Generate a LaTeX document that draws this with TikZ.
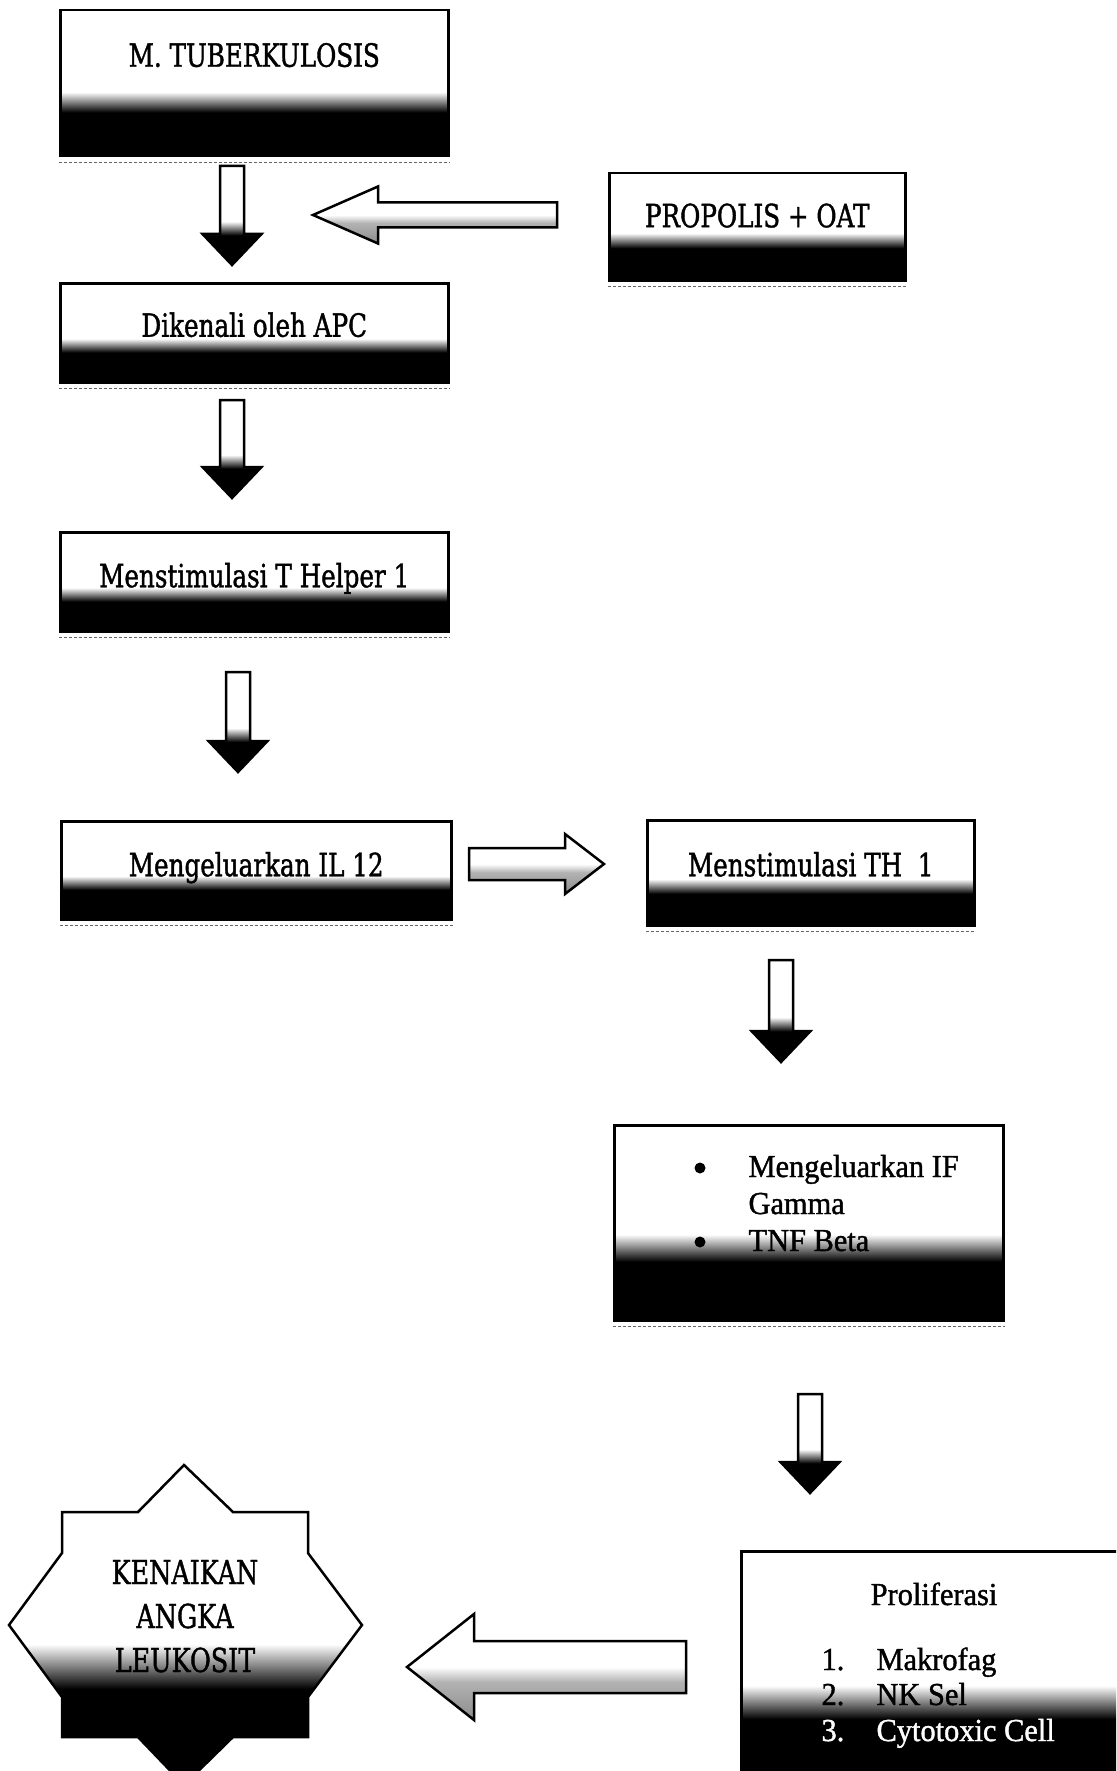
\documentclass[tikz,border=0pt]{standalone}
\usepackage{fontspec}
\setmainfont{Liberation Serif}
\newfontfamily\boxfont{DejaVu Serif}[FakeStretch=0.77, FakeBold=1.2]
\newfontfamily\listfont{Liberation Serif}[FakeStretch=0.95, FakeBold=1.2]
\usetikzlibrary{calc}

% scanned white-to-black fill (bottom of the path = 25bp, top = 75bp)
\pgfdeclareverticalshading{scanfade}{100bp}{color(0bp)=(black); color(40bp)=(black); color(43.5bp)=(black!50); color(47bp)=(white); color(100bp)=(white)}
\pgfdeclareverticalshading{scanfadelight}{100bp}{color(0bp)=(black!45); color(25bp)=(black!45); color(43bp)=(black!30); color(50bp)=(white); color(100bp)=(white)}

\tikzset{
  fadebox/.style={draw, line width=2.5pt, shading=scanfade, inner xsep=0pt, inner ysep=0pt,
    anchor=north west, font=\boxfont\fontsize{32}{38}\selectfont},
  startext/.style={font=\boxfont\fontsize{33}{44}\selectfont, anchor=base},
  listtext/.style={font=\listfont\fontsize{32}{37}\selectfont, anchor=base west},
  bulletdot/.style={circle, fill=black, inner sep=0pt, minimum size=11pt},
  blkarrow/.style={draw, line width=2.5pt, shading=scanfade},
  blkarrowlight/.style={draw, line width=2.5pt, shading=scanfadelight},
  shadowline/.style={black!60, line width=1pt, densely dashed}
}

% vertical block arrow: start, tip, shaft half width, head half width, head length
\newcommand{\vblk}[6][blkarrow]{%
  \path[#1] let \p1=(#2), \p2=(#3), \n1={sign(\y2-\y1)} in
    ({\x1-#4},\y1) -- ({\x1+#4},\y1) -- ({\x1+#4},{\y2-\n1*#6}) -- ({\x1+#5},{\y2-\n1*#6})
    -- (\x1,\y2) -- ({\x1-#5},{\y2-\n1*#6}) -- ({\x1-#4},{\y2-\n1*#6}) -- cycle;}
% horizontal block arrow: start, tip, shaft half width, head half width, head length
\newcommand{\hblk}[6][blkarrowlight]{%
  \path[#1] let \p1=(#2), \p2=(#3), \n1={sign(\x2-\x1)} in
    (\x1,{\y1+#4}) -- (\x1,{\y1-#4}) -- ({\x2-\n1*#6},{\y1-#4}) -- ({\x2-\n1*#6},{\y1-#5})
    -- (\x2,\y1) -- ({\x2-\n1*#6},{\y1+#5}) -- ({\x2-\n1*#6},{\y1+#4}) -- cycle;}

\begin{document}
\begin{tikzpicture}[x=1pt, y=-1pt]
    \useasboundingbox (0,0) rectangle (1116,1771);
    \clip (0,0) rectangle (1116,1771);

    % boxes of the left column
    \node[fadebox, minimum width=388pt, text height=56.5pt, text depth=89.5pt] (tb) at (59,9) {M. TUBERKULOSIS};
    \node[fadebox, minimum width=388pt, text height=53.5pt, text depth=45.5pt] (apc) at (59,282) {Dikenali oleh APC};
    \node[fadebox, minimum width=388pt, text height=55pt, text depth=44pt] (th) at (59,531) {Menstimulasi T Helper 1};
    \node[fadebox, minimum width=390pt, text height=55pt, text depth=43pt] (il) at (60,820) {Mengeluarkan IL 12};

    % boxes of the right column
    \node[fadebox, minimum width=296pt, text height=54pt, text depth=53pt] (pro) at (608,172) {PROPOLIS + OAT};
    \node[fadebox, minimum width=327pt, text height=56pt, text depth=49pt] (sth) at (646,819) {Menstimulasi TH\ \ 1};
    \node[fadebox, minimum width=389pt, minimum height=195pt] (ifg) at (613,1124) {};
    \node[fadebox, minimum width=390pt, minimum height=240pt] (pf) at (740,1550) {};

    % shadow lines under the boxes
    \foreach \b in {tb,apc,th,il,pro,sth,ifg}
        \draw[shadowline] ([yshift=-5pt]\b.south west) -- ([yshift=-5pt]\b.south east);

    % cytokines
    \node[bulletdot] (ifgb1) at (700,1168) {};
    \node[listtext] (ifg1) at (745,1177) {Mengeluarkan IF};
    \node[listtext] (ifg2) at (745,1214) {Gamma};
    \node[bulletdot] (ifgb2) at (700,1242) {};
    \node[listtext] (ifg3) at (745,1251) {TNF Beta};

    % proliferation list
    \node[listtext, anchor=base] (pft) at (934,1605) {Proliferasi};
    \node[listtext] (pfn1) at (818,1670) {1.};
    \node[listtext] (pf1) at (873,1670) {Makrofag};
    \node[listtext] (pfn2) at (818,1705) {2.};
    \node[listtext] (pf2) at (873,1705) {NK Sel};
    \node[listtext, white] (pfn3) at (818,1741) {3.};
    \node[listtext, white] (pf3) at (873,1741) {Cytotoxic Cell};

    % star
    \path[blkarrow] (184,1465) -- (233,1512) -- (308,1512) -- (308,1553) -- (362,1625)
        -- (308,1697) -- (308,1737) -- (233,1737) -- (184,1785) -- (138,1737)
        -- (62,1737) -- (62,1697) -- (9,1625) -- (62,1553) -- (62,1512) -- (138,1512) -- cycle;
    \node[startext] (st1) at (185,1584) {KENAIKAN};
    \node[startext] (st2) at (185,1628) {ANGKA};
    \node[startext] (st3) at (185,1672) {LEUKOSIT};

    % arrow ends
    \coordinate (a1s) at (232,166);  \coordinate (a1e) at (232,265);
    \coordinate (a2s) at (232,400);  \coordinate (a2e) at (232,498);
    \coordinate (a3s) at (238,672);  \coordinate (a3e) at (238,772);
    \coordinate (a4s) at (557,215);  \coordinate (a4e) at (313,215);
    \coordinate (a5s) at (469,864);  \coordinate (a5e) at (604,864);
    \coordinate (a6s) at (781,960);  \coordinate (a6e) at (781,1062);
    \coordinate (a7s) at (810,1394); \coordinate (a7e) at (810,1493);
    \coordinate (a8s) at (686,1667); \coordinate (a8e) at (407,1667);

    % block arrows
    \vblk{a1s}{a1e}{12pt}{29.5pt}{31pt}
    \vblk{a2s}{a2e}{12pt}{29.5pt}{31pt}
    \vblk{a3s}{a3e}{12pt}{29.5pt}{31pt}
    \hblk{a4s}{a4e}{12.5pt}{28.5pt}{65pt}
    \hblk{a5s}{a5e}{16pt}{30pt}{39pt}
    \vblk{a6s}{a6e}{12pt}{29.5pt}{31pt}
    \vblk{a7s}{a7e}{12pt}{29.5pt}{31pt}
    \hblk{a8s}{a8e}{26pt}{53pt}{67pt}
\end{tikzpicture}
\end{document}
